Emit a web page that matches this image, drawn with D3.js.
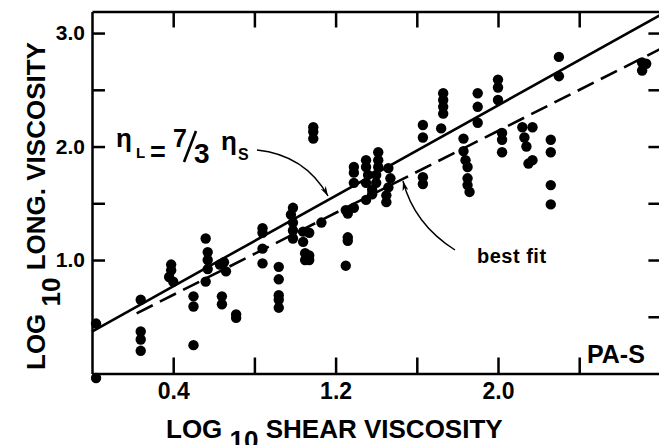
<!DOCTYPE html>
<html>
<head>
<meta charset="utf-8">
<script src="https://cdn.jsdelivr.net/npm/d3@7"></script>
<style>
body {
  margin: 0;
  background: #fff;
  font-family: "Liberation Sans", Arial, Helvetica, sans-serif;
}
.axis path, .axis line {
  stroke: #000;
  stroke-width: 2.5;
}
.axis text {
  font-weight: bold;
  fill: #000;
}
.title {
  font-weight: bold;
  font-size: 26px;
}
</style>
</head>
<body>
<div class="chart"></div>
<script>

// log10 shear viscosity (x) / log10 longitudinal viscosity (y)
var shearLog = [0.02, 0.02, 0.24, 0.24, 0.24, 0.24, 0.39, 0.39, 0.38, 0.40,
  0.50, 0.50, 0.50, 0.56, 0.57, 0.57, 0.57, 0.56, 0.63, 0.65,
  0.66, 0.64, 0.64, 0.71, 0.71, 0.84, 0.84, 0.84, 0.84, 0.92,
  0.92, 0.92, 0.92, 0.92, 0.99, 0.98, 0.99, 0.99, 0.99, 1.04,
  1.07, 1.04, 1.05, 1.07, 1.05, 1.07, 1.13, 1.09, 1.09, 1.09,
  1.25, 1.26, 1.26, 1.26, 1.25, 1.29, 1.29, 1.29, 1.29, 1.35,
  1.35, 1.36, 1.35, 1.35, 1.38, 1.38, 1.41, 1.41, 1.41, 1.40,
  1.40, 1.46, 1.47, 1.46, 1.45, 1.45, 1.63, 1.63, 1.63, 1.63,
  1.73, 1.73, 1.73, 1.73, 1.72, 1.90, 1.90, 1.90, 2.00, 2.00,
  2.00, 1.83, 1.83, 1.84, 1.85, 1.85, 1.85, 1.86, 2.02, 2.02,
  2.02, 2.12, 2.17, 2.13, 2.14, 2.15, 2.17, 2.26, 2.26, 2.26,
  2.26, 2.30, 2.30, 2.71, 2.73, 2.71];
var longLog = [0.44, -0.04, 0.65, 0.37, 0.30, 0.20, 0.96, 0.91, 0.85, 0.81,
  0.68, 0.59, 0.25, 1.19, 1.07, 1.00, 0.92, 0.81, 0.96, 0.98,
  0.90, 0.68, 0.61, 0.52, 0.49, 1.28, 1.24, 1.10, 0.97, 0.94,
  0.83, 0.69, 0.65, 0.58, 1.46, 1.40, 1.33, 1.26, 1.19, 1.25,
  1.24, 1.16, 1.06, 1.04, 1.00, 1.00, 1.33, 2.17, 2.13, 2.07,
  1.44, 1.41, 1.20, 1.17, 0.95, 1.46, 1.68, 1.77, 1.82, 1.88,
  1.82, 1.75, 1.68, 1.53, 1.62, 1.58, 1.95, 1.88, 1.82, 1.75,
  1.68, 1.81, 1.72, 1.64, 1.57, 1.51, 2.19, 2.08, 1.73, 1.67,
  2.47, 2.41, 2.35, 2.29, 2.16, 2.47, 2.35, 2.21, 2.59, 2.52,
  2.41, 2.07, 1.96, 1.88, 1.82, 1.72, 1.66, 1.60, 2.12, 2.06,
  1.95, 2.17, 2.17, 2.08, 2.00, 1.85, 1.88, 2.06, 1.95, 1.66,
  1.49, 2.79, 2.62, 2.74, 2.73, 2.67];

// eta_L = 7/3 eta_S (solid) and best fit (dashed), end points
var solidX = [0, 2.8], solidY = [0.37, 3.16];
var dashX = [0.22, 2.8], dashY = [0.53, 2.86];

var xTicks = [0.4, 0.8, 1.2, 1.6, 2.0, 2.4],
    xLabels = [0.4, 1.2, 2.0];
var yTicks = [1.0, 1.5, 2.0, 2.5, 3.0],
    yLabels = [1.0, 2.0, 3.0];
var yTicksRight = [0.5, 1.0, 1.5, 2.0, 2.5, 3.0];

var width = 659,
    height = 445;

var svg = d3.select(".chart")
  .append("svg")
  .attr("width", width)
  .attr("height", height);

var x = d3.scaleLinear().domain([0, 2.8]).range([92, 660.4]);
var y = d3.scaleLinear().domain([0, 3.19]).range([373.5, 11.5]);

function fmt(labels) {
  return function(d) { return labels.indexOf(d) >= 0 ? d.toFixed(1) : ""; };
}

// frame + ticks, all pointing inward
svg.append("g").attr("class", "axis")
  .attr("transform", "translate(0," + y(0) + ")")
  .style("font-size", "23px")
  .call(d3.axisBottom(x).tickValues(xTicks).tickSizeInner(-16).tickSizeOuter(0)
    .tickPadding(9).tickFormat(fmt(xLabels)));

svg.append("g").attr("class", "axis")
  .attr("transform", "translate(0," + y(3.19) + ")")
  .call(d3.axisTop(x).tickValues(xTicks).tickSizeInner(-16).tickSizeOuter(0)
    .tickFormat(""));

svg.append("g").attr("class", "axis")
  .attr("transform", "translate(" + x(0) + ",0)")
  .style("font-size", "21px")
  .call(d3.axisLeft(y).tickValues(yTicks).tickSizeInner(-13).tickSizeOuter(0)
    .tickPadding(7).tickFormat(fmt(yLabels)));

svg.append("g").attr("class", "axis")
  .attr("transform", "translate(" + x(2.8) + ",0)")
  .call(d3.axisRight(y).tickValues(yTicksRight).tickSizeInner(-12).tickSizeOuter(0)
    .tickFormat(""));

// fit lines
var line = d3.line()
  .x(function(d) { return x(d[0]); })
  .y(function(d) { return y(d[1]); });

svg.append("path")
  .attr("d", line(d3.zip(solidX, solidY)))
  .attr("fill", "none")
  .attr("stroke", "#000")
  .attr("stroke-width", 2.6);

svg.append("path")
  .attr("d", line(d3.zip(dashX, dashY)))
  .attr("fill", "none")
  .attr("stroke", "#000")
  .attr("stroke-width", 2.6)
  .attr("stroke-dasharray", "18,8");

// data points
svg.selectAll("circle")
  .data(d3.zip(shearLog, longLog))
  .enter().append("circle")
  .attr("cx", function(d) { return x(d[0]); })
  .attr("cy", function(d) { return y(d[1]); })
  .attr("r", 5.2)
  .attr("fill", "#000");

// axis titles
svg.append("text").attr("class", "title")
  .attr("x", 166).attr("y", 438)
  .text("LOG ")
  .append("tspan").attr("dy", 11).style("font-size", "26px").text("10")
  .select(function() { return this.parentNode; })
  .append("tspan").attr("dy", -11).text(" SHEAR VISCOSITY");

svg.append("text").attr("class", "title")
  .attr("transform", "translate(45,370) rotate(-90)")
  .text("LOG ")
  .append("tspan").attr("dy", 15).style("font-size", "26px").text("10")
  .select(function() { return this.parentNode; })
  .append("tspan").attr("dy", -15).text(" LONG. VISCOSITY");

// annotations
var ann = svg.append("g").attr("fill", "#000").style("font-weight", "bold");
ann.append("text").attr("x", 116).attr("y", 147).style("font-size", "26px").text("\u03b7");
ann.append("text").attr("x", 136).attr("y", 158).style("font-size", "15px").text("L");
ann.append("text").attr("x", 150).attr("y", 161).style("font-size", "27px").text("=");
ann.append("text").attr("x", 173).attr("y", 147).style("font-size", "25px").text("7");
ann.append("text").attr("x", 194).attr("y", 163).style("font-size", "28px").text("3");
ann.append("line").attr("x1", 184).attr("y1", 162).attr("x2", 196).attr("y2", 131)
  .attr("stroke", "#000").attr("stroke-width", 2.6);
ann.append("text").attr("x", 221).attr("y", 150).style("font-size", "26px").text("\u03b7");
ann.append("text").attr("x", 238).attr("y", 160).style("font-size", "16px").text("S");

ann.append("text").attr("x", 477).attr("y", 263)
  .style("font-size", "20px").style("letter-spacing", "0.5px")
  .text("best fit");
ann.append("text").attr("x", 587).attr("y", 363)
  .style("font-size", "25px")
  .text("PA-S");

svg.append("defs").append("marker")
  .attr("id", "arrow")
  .attr("viewBox", "0 0 10 6")
  .attr("refX", 10).attr("refY", 3)
  .attr("markerWidth", 10).attr("markerHeight", 6)
  .attr("markerUnits", "userSpaceOnUse")
  .attr("orient", "auto")
  .append("path")
  .attr("d", "M0,0 L10,3 L0,6 L3,3 Z")
  .attr("fill", "#000");

svg.append("path")
  .attr("d", "M257,150 Q305,155 328,196")
  .attr("fill", "none").attr("stroke", "#000").attr("stroke-width", 1.4)
  .attr("marker-end", "url(#arrow)");

svg.append("path")
  .attr("d", "M455,250 Q414,224 403,181")
  .attr("fill", "none").attr("stroke", "#000").attr("stroke-width", 1.4)
  .attr("marker-end", "url(#arrow)");

</script>
</body>
</html>
